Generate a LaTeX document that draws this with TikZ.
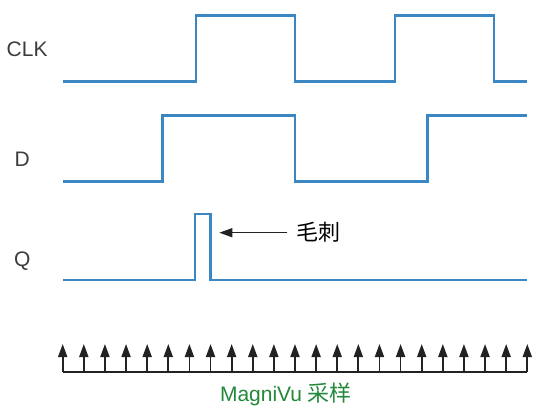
\documentclass[tikz,border=0pt]{standalone}
\usepackage{fontspec}
\setmainfont{Liberation Sans}
\newfontfamily\cjk{Noto Sans CJK SC}
\usetikzlibrary{arrows.meta}
\definecolor{wavec}{HTML}{3A87C4}
\definecolor{mvgreen}{HTML}{22883A}
\definecolor{txtc}{HTML}{3C3C3C}
\definecolor{arrc}{HTML}{222222}
\begin{document}
\begin{tikzpicture}[x=1pt,y=-1pt,
  wave/.style={draw=wavec, line width=2.6pt, line join=miter},
  lbl/.style={font=\fontsize{21}{25}\selectfont, text=txtc, inner sep=0pt},
  sample/.style={draw=arrc, line width=1.8pt, -{Triangle[length=13pt,width=9pt]}},
  note/.style={draw=arrc, line width=1.3pt, -{Triangle[length=13pt,width=9pt]}}]
\useasboundingbox (0,0) rectangle (534,407);
% labels
\node[lbl, anchor=base west] (clk) at (6.5,56.7) {CLK};
\node[lbl, anchor=base west] (d) at (14.5,166.7) {D};
\node[lbl, anchor=base west] (q) at (14,266.5) {Q};
% waveforms
\draw[wave] (63.3,81.7) -| (196,15.7) -| (295,81.7) -| (395,15.7) -| (494,81.7) -- (526.7,81.7);
\draw[wave] (63.3,181.7) -| (162.7,115.7) -| (295,181.7) -| (427.7,115.7) -- (526.7,115.7);
\draw[wave] (63.3,280) -| (195,214) -| (210.7,280) -- (526.7,280);
% glitch annotation
\node[inner sep=0pt, text=black, font=\cjk\fontsize{22}{26}\selectfont] (glitch) at (318.5,232.5) {毛刺};
\coordinate (gtip) at (219.3,232.7);
\draw[note] ([xshift=-9pt]glitch.west |- gtip) -- (gtip);
% sample arrows
\coordinate (sl) at (62.7,371.7);
\coordinate (sr) at (527.3,371.7);
\draw[draw=arrc, line width=1.8pt] (sl) -- (sr);
\foreach \i in {0,...,22}{
  \draw[sample] ([xshift=21.118*\i pt]sl) -- ++(0,-27.7);
}
\node[inner sep=0pt, text=mvgreen, anchor=base, font=\fontsize{21}{25}\selectfont] (mv) at (286,401.7) {MagniVu {\cjk\fontsize{22}{26}\selectfont 采样}};
\end{tikzpicture}
\end{document}
